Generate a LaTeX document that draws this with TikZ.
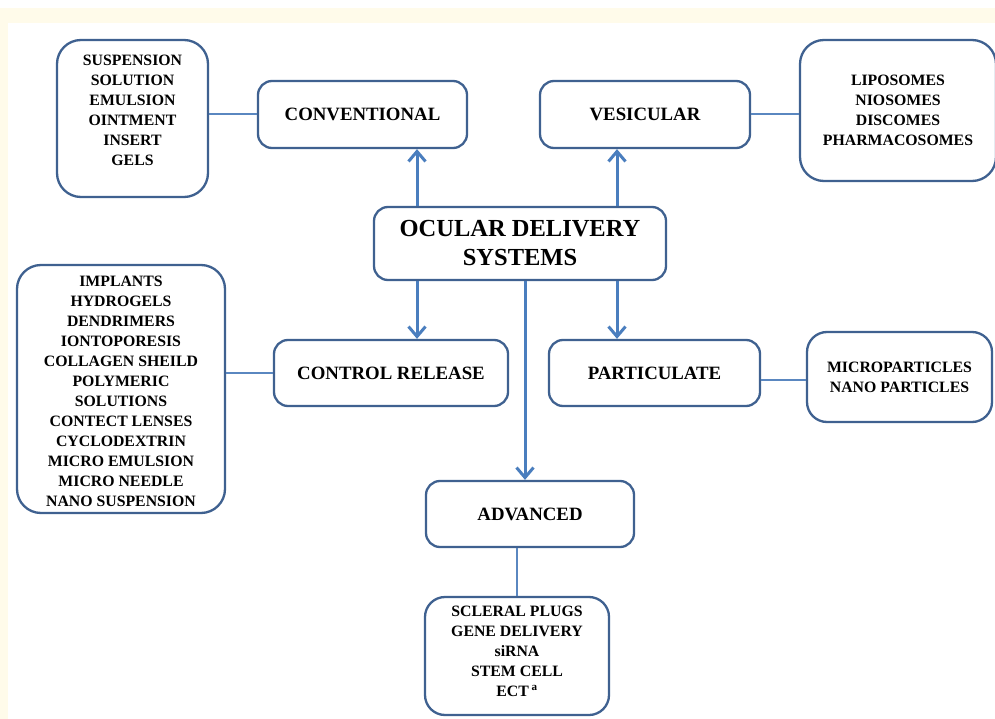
\documentclass[tikz,border=0pt]{standalone}
\usepackage{fontspec}
\setmainfont{Liberation Serif}
\usetikzlibrary{arrows.meta}
\definecolor{cream}{HTML}{FFFBEA}
\definecolor{boxblue}{HTML}{3F6190}
\definecolor{arrblue}{HTML}{4A7EBE}
\definecolor{lineblue}{HTML}{5A87C0}
\tikzset{
  box/.style={draw=boxblue, line width=2.3pt, rounded corners=14pt, fill=white, align=center,
    font=\fontsize{18.8}{22}\selectfont\bfseries, inner sep=0pt},
  listbox/.style={draw=boxblue, line width=2.3pt, rounded corners=24pt, fill=white, align=center,
    font=\fontsize{15.8}{20}\selectfont\bfseries, inner sep=0pt},
  listtext/.style={align=center, font=\fontsize{15.8}{20}\selectfont\bfseries, inner sep=0pt},
  arr/.style={draw=arrblue, line width=3pt, -{Straight Barb[length=10pt,width=17pt,line width=3pt]}},
  conn/.style={draw=lineblue, line width=1.3pt}
}
\begin{document}
\begin{tikzpicture}[x=1pt,y=-1pt]
\useasboundingbox (0,0) rectangle (995,719);
\clip (0,0) rectangle (995,719);
\fill[cream] (0,0) rectangle (995,719);
\fill[white] (0,0) rectangle (995,8);
\fill[white] (8,23) rectangle (995,719);

\node[listbox, minimum width=151pt, minimum height=157pt] (l1) at (132.5,118.5) {};
\node[listtext] (l1t) at (132.5,110.5)
  {SUSPENSION\\SOLUTION\\EMULSION\\OINTMENT\\INSERT\\GELS};
\node[box, minimum width=209pt, minimum height=67pt] (conv) at (362.5,114.5) {CONVENTIONAL};
\node[box, minimum width=210pt, minimum height=67pt] (ves) at (645,114.5) {VESICULAR};
\node[listbox, minimum width=196pt, minimum height=141pt] (l2) at (898,110.5)
  {LIPOSOMES\\NIOSOMES\\DISCOMES\\PHARMACOSOMES};
\node[box, minimum width=292pt, minimum height=73pt, font=\fontsize{24.5}{29}\selectfont\bfseries] (ods) at (520,243.5)
  {OCULAR DELIVERY\\SYSTEMS};
\node[listbox, minimum width=208pt, minimum height=248pt] (l3) at (121,389) {};
\node[listtext] (l3t) at (121,391)
  {IMPLANTS\\HYDROGELS\\DENDRIMERS\\IONTOPORESIS\\COLLAGEN SHEILD\\POLYMERIC\\SOLUTIONS\\CONTECT LENSES\\CYCLODEXTRIN\\MICRO EMULSION\\MICRO NEEDLE\\NANO SUSPENSION};
\node[box, minimum width=234pt, minimum height=66pt] (cr) at (391,373) {CONTROL RELEASE};
\node[box, minimum width=211pt, minimum height=66pt] (part) at (654.5,373) {PARTICULATE};
\node[listbox, minimum width=185pt, minimum height=90pt, rounded corners=20pt] (l4) at (899.5,377)
  {MICROPARTICLES\\NANO PARTICLES};
\node[box, minimum width=208pt, minimum height=66pt] (adv) at (530,514) {ADVANCED};
\node[listbox, minimum width=184pt, minimum height=118pt, rounded corners=20pt] (l5) at (517,656) {};
\node[listtext] (l5t) at (517,651)
  {SCLERAL PLUGS\\GENE DELIVERY\\siRNA\\STEM CELL\\ECT\,\textsuperscript{a}};

\coordinate (xa) at (417,0);
\coordinate (xb) at (617,0);
\coordinate (xc) at (525,0);
\coordinate (xd) at (517,0);
\coordinate (ya) at (0,114);
\coordinate (yb) at (0,373);
\coordinate (yc) at (0,380);

\draw[arr] (ods.north -| xa) -- (conv.south -| xa);
\draw[arr] (ods.north -| xb) -- (ves.south -| xb);
\draw[arr] (ods.south -| xa) -- (cr.north -| xa);
\draw[arr] (ods.south -| xb) -- (part.north -| xb);
\draw[arr] (ods.south -| xc) -- (adv.north -| xc);

\draw[conn] (l1.east |- ya) -- (conv.west |- ya);
\draw[conn] (ves.east |- ya) -- (l2.west |- ya);
\draw[conn] (l3.east |- yb) -- (cr.west |- yb);
\draw[conn] (part.east |- yc) -- (l4.west |- yc);
\draw[conn] (adv.south -| xd) -- (l5.north -| xd);
\end{tikzpicture}
\end{document}
